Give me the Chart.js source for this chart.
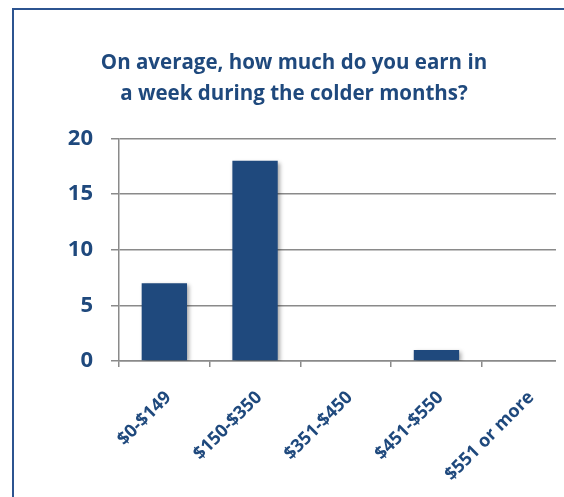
<!DOCTYPE html>
<html>
<head>
<meta charset="utf-8">
<script src="https://cdn.jsdelivr.net/npm/chart.js@4"></script>
<style>
  html, body { margin: 0; padding: 0; background: #fff; overflow: hidden; }
  #wrap { position: relative; width: 564px; height: 497px; overflow: hidden; }
  #frame { position: absolute; left: 12px; top: 8px; width: 600px; height: 600px;
           border-left: 2px solid #2c5490; border-top: 2px solid #2c5490; box-sizing: border-box; }
  #cut { position: absolute; left: 556px; top: 120px; width: 40px; height: 260px; background: #fff; }
  canvas { position: absolute; left: 0; top: 0; }
</style>
</head>
<body>
<div id="wrap">
  <div id="frame"></div>
  <canvas id="chart" width="582" height="497"></canvas>
  <div id="cut"></div>
</div>
<script>
// ---------------- DATA ----------------
const categories = ["$0-$149", "$150-$350", "$351-$450", "$451-$550", "$551 or more"];
const counts = [7, 18, 0, 1, 0];
const yTicks = [0, 5, 10, 15, 20];
const titleLines = ["On average, how much do you earn in", "a week during the colder months?"];

const BLUE = "#1f497d";
const GRID = "#8a8a8a";
const FONT = "'Open Sans', 'Noto Sans', sans-serif";

// soft shadow behind bars
const barShadow = {
  id: "barShadow",
  beforeDatasetsDraw(chart) {
    const ctx = chart.ctx;
    ctx.save();
    ctx.shadowColor = "rgba(0,0,0,0.35)";
    ctx.shadowBlur = 4;
    ctx.shadowOffsetX = 2;
    ctx.shadowOffsetY = 2;
  },
  afterDatasetsDraw(chart) {
    chart.ctx.restore();
  }
};

const ctx = document.getElementById("chart").getContext("2d");
new Chart(ctx, {
  type: "bar",
  data: {
    labels: categories,
    datasets: [{ data: counts, backgroundColor: BLUE, barPercentage: 0.5, categoryPercentage: 1 }]
  },
  options: {
    responsive: false,
    animation: false,
    layout: { padding: { left: 15.5, right: 9.5, top: 0, bottom: 0 } },
    plugins: {
      legend: { display: false },
      tooltip: { enabled: false },
      title: {
        display: true,
        text: titleLines,
        color: BLUE,
        font: { family: FONT, size: 20.5, weight: "bold", lineHeight: 1.5 },
        padding: { top: 48, bottom: 29 }
      }
    },
    scales: {
      x: {
        grid: { display: true, drawOnChartArea: false, offset: true, color: GRID, tickLength: 6, lineWidth: 1.5 },
        border: { color: GRID, width: 1.5 },
        ticks: {
          color: BLUE, font: { family: FONT, size: 18, weight: "bold" },
          autoSkip: false, minRotation: 45, maxRotation: 45, padding: 20, labelOffset: 4
        },
        afterFit(scale) { scale.height = 136; }
      },
      y: {
        min: 0, max: 20,
        grid: { color: GRID, tickLength: 8, lineWidth: 1.5 },
        border: { color: GRID, width: 1.5 },
        afterBuildTicks(scale) { scale.ticks = yTicks.map(v => ({ value: v })); },
        ticks: { color: BLUE, font: { family: FONT, size: 22, weight: "bold" }, padding: 18 },
        afterFit(scale) { scale.width = 103.5; }
      }
    }
  },
  plugins: [barShadow]
});
</script>
</body>
</html>
